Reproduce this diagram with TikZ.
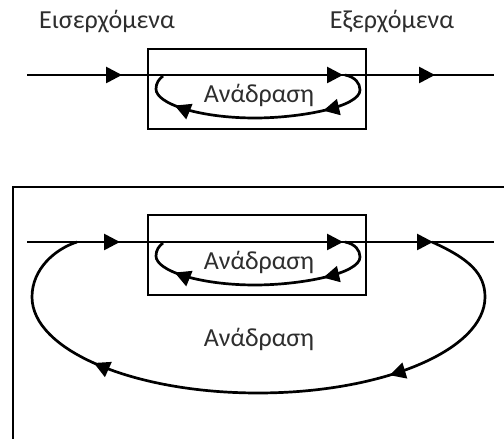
\documentclass[tikz,border=0pt]{standalone}
\usepackage{fontspec}
\setmainfont{Carlito}
\usetikzlibrary{arrows.meta,decorations.markings}
\tikzset{
  lw/.style={line width=2.7pt},
  boxnode/.style={draw,lw,rectangle,inner sep=0pt,minimum width=218pt,minimum height=80pt},
  lbl/.style={font=\fontsize{26}{30}\selectfont,text=black!82,inner sep=0pt,anchor=base},
  arr/.style={postaction={decorate,decoration={markings,mark=at position #1 with {\arrow{Triangle[length=16pt,width=16pt]}}}}},
}
\begin{document}
\begin{tikzpicture}[x=1pt,y=1pt]
\useasboundingbox (0,0) rectangle (504,439);
\clip (0,0) rectangle (504,439);
% top labels
\node[lbl] (inlbl) at (107,410) {Εισερχόμενα};
\node[lbl] (outlbl) at (392,410) {Εξερχόμενα};
% top system
\node[boxnode] (box1) at (257,350) {};
\coordinate (a1) at (27,364);
\coordinate (b1) at (494,364);
\draw[lw,arr=95pt,arr=316pt,arr=408pt] (a1) -- (b1);
\coordinate (l1s) at (345,364);
\coordinate (l1e) at (163,363);
\draw[lw,arr=0.26,arr=0.84] (l1s) .. controls (355,362) and (360,356) .. (360,349)
  .. controls (360,332) and (300,321) .. (255,321)
  .. controls (200,321) and (156,335) .. (156,350)
  .. controls (156,356) and (159,360) .. (l1e);
\node[lbl] (fb1) at (259,336) {Ανάδραση};
% bottom system
\draw[lw] (13,-5) rectangle (520,252);
\node[boxnode] (box2) at (257,184) {};
\coordinate (a2) at (27,197);
\coordinate (b2) at (494,197);
\draw[lw,arr=93pt,arr=316pt,arr=406pt] (a2) -- (b2);
\coordinate (l2s) at (345,197);
\coordinate (l2e) at (163,196);
\draw[lw,arr=0.26,arr=0.84] (l2s) .. controls (355,195) and (360,189) .. (360,182)
  .. controls (360,165) and (300,154) .. (255,154)
  .. controls (200,154) and (156,168) .. (156,183)
  .. controls (156,189) and (159,193) .. (l2e);
\node[lbl] (fb2) at (259,169) {Ανάδραση};
\coordinate (o2s) at (432,197);
\coordinate (o2e) at (77,197);
\draw[lw,arr=0.31,arr=0.75] (o2s) .. controls (470,180) and (485,165) .. (485,142)
  .. controls (485,89) and (383,46) .. (258,46)
  .. controls (133,46) and (32,89) .. (32,142)
  .. controls (32,170) and (55,190) .. (o2e);
\node[lbl] (fb3) at (259,92) {Ανάδραση};
\end{tikzpicture}
\end{document}
